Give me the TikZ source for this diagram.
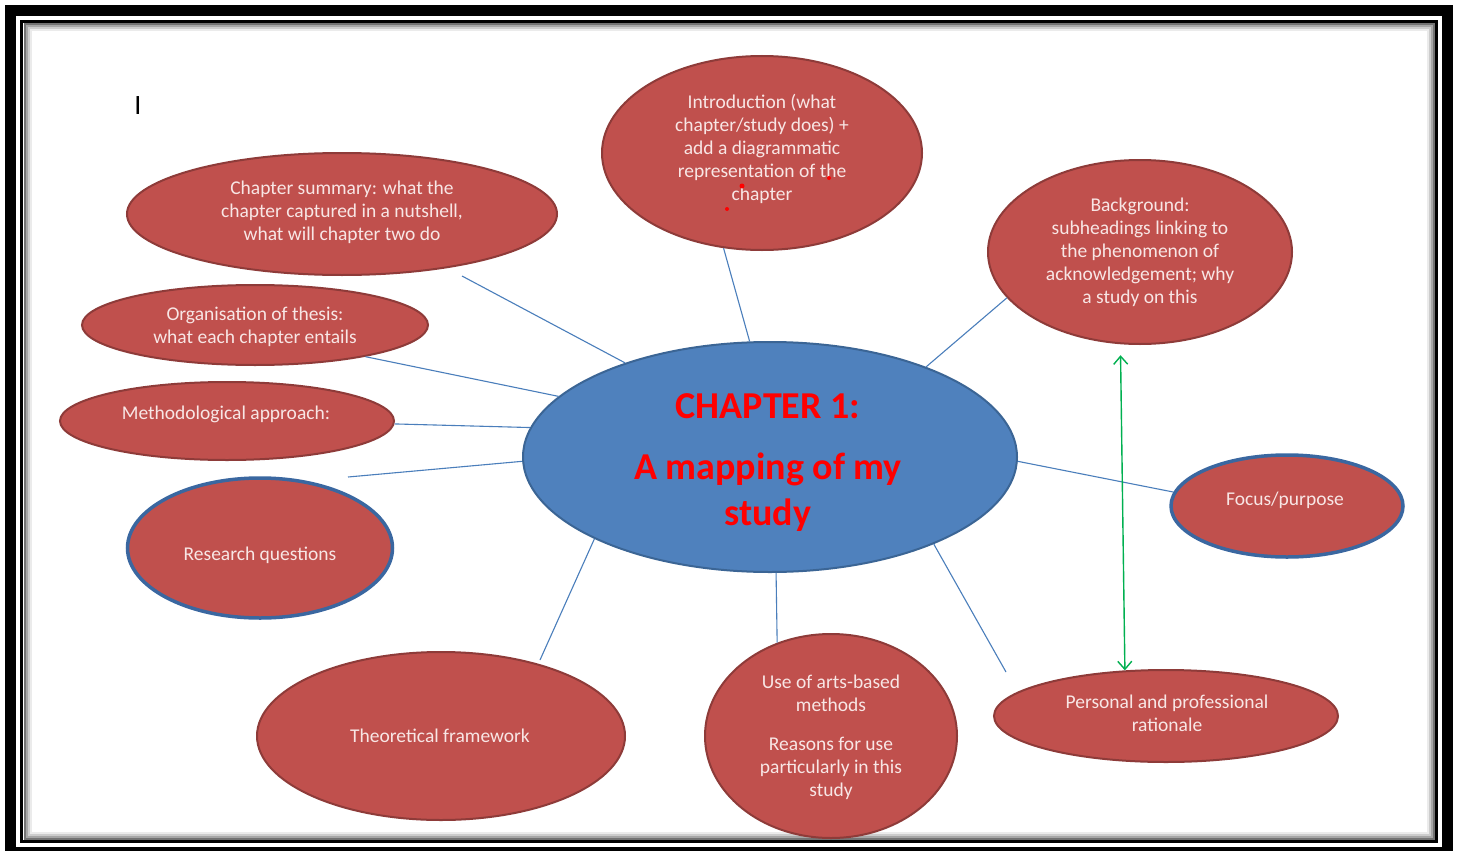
\documentclass[tikz,border=0pt]{standalone}
\usepackage{fontspec}
\setmainfont{Carlito}
\usetikzlibrary{shapes.geometric,arrows.meta}

\definecolor{bubblered}{HTML}{C0504D}
\definecolor{bubbleedge}{HTML}{8E3B39}
\definecolor{hubblue}{HTML}{4F81BD}
\definecolor{hubedge}{HTML}{3B6595}
\definecolor{ringblue}{HTML}{3A67A0}
\definecolor{linkblue}{HTML}{4A7EBB}
\definecolor{arrowgreen}{HTML}{00B050}
\definecolor{labelpink}{HTML}{F8E6E5}
\definecolor{titlered}{HTML}{FF0000}

\begin{document}
\begin{tikzpicture}[x=1pt,y=-1pt,
  bubble/.style={ellipse, fill=bubblered, draw=bubbleedge, line width=2pt, inner sep=0pt},
  ringed/.style={bubble, draw=ringblue, line width=3.5pt},
  hub/.style={ellipse, fill=hubblue, draw=hubedge, line width=2pt, inner sep=0pt},
  bubbletext/.style={inner sep=0pt, align=center, text=labelpink,
    font=\fontsize{19.5}{23}\selectfont},
  hubtext/.style={inner sep=0pt, align=center, text=titlered,
    font=\fontsize{38}{46}\selectfont\bfseries},
  link/.style={draw=linkblue, line width=1.1pt},
  twoway/.style={draw=arrowgreen, line width=1.4pt,
    {Straight Barb[length=8pt,width=14pt]}-{Straight Barb[length=8pt,width=14pt]}}
]
\useasboundingbox (0,0) rectangle (1459,851);
\fill[white] (0,0) rectangle (1459,851);

% page frame: heavy outer rule, thin inner rule, soft inner shadow
\draw[line width=11pt] (10.5,10.5) rectangle (1447.5,852.5);
\draw[line width=3pt] (21.5,21.5) rectangle (1436.5,841.5);
\foreach \d/\c in {3/55,5/35,7/20,9/8}
  \draw[black!\c, line width=2pt] ({21.5+\d},{21.5+\d}) rectangle ({1436.5-\d},{841.5-\d});

% stray cursor mark
\node[font=\fontsize{28}{28}\selectfont] (cursor) at (138,106) {I};

% satellite bubbles
\node[bubble, minimum width=320pt, minimum height=194pt] (intro) at (762,153) {};
\node[bubble, minimum width=430pt, minimum height=122pt] (summary) at (342,214) {};
\node[bubble, minimum width=346pt, minimum height=80pt] (organisation) at (255,325) {};
\node[bubble, minimum width=334pt, minimum height=78pt] (method) at (227,421) {};
\node[ringed, minimum width=265pt, minimum height=140pt] (questions) at (260,548) {};
\node[bubble, minimum width=368pt, minimum height=168pt] (theory) at (441,736) {};
\node[bubble, minimum width=252pt, minimum height=204pt] (arts) at (831,736) {};
\node[bubble, minimum width=344pt, minimum height=92pt] (rationale) at (1166,716) {};
\node[ringed, minimum width=232pt, minimum height=102pt] (focus) at (1287,506) {};
\node[bubble, minimum width=304pt, minimum height=184pt] (background) at (1140,252) {};

% centre
\node[hub, minimum width=494pt, minimum height=230pt] (hub) at (770,457) {};

% bubble texts
\node[bubbletext] (introtext) at (762,149)
  {Introduction (what\\chapter/study does) +\\add a diagrammatic\\representation of the\\chapter};
\node[bubbletext] (summarytext) at (342,212)
  {Chapter summary: what the\\chapter captured in a nutshell,\\what will chapter two do};
\node[bubbletext] (organisationtext) at (255,327)
  {Organisation of thesis:\\what each chapter entails};
\node[bubbletext] (methodtext) at (226,414) {Methodological approach:};
\node[bubbletext] (questionstext) at (260,555) {Research questions};
\node[bubbletext] (theorytext) at (440,736) {Theoretical framework};
\node[bubbletext] (artstext) at (831,737)
  {Use of arts-based\\methods\\[16pt]Reasons for use\\particularly in this\\study};
\node[bubbletext] (rationaletext) at (1167,713.5)
  {Personal and professional\\rationale};
\node[bubbletext] (focustext) at (1285,500) {Focus/purpose};
\node[bubbletext] (backgroundtext) at (1140,252)
  {Background:\\subheadings linking to\\the phenomenon of\\acknowledgement; why\\a study on this};
\node[hubtext] (hubtext) at (768,462.5) {CHAPTER 1:\\[15pt]A mapping of my\\study};

% red specks on the introduction bubble
\fill[red] (742,186) circle (2.5pt) (727,209) circle (2pt) (829,178) circle (2pt);

% loose ends of spokes that stop short of their bubble
\coordinate (summaryend) at (462,276);
\coordinate (questionsend) at (348,477);
\coordinate (theoryend) at (540,660);
\coordinate (rationaleend) at (1006,672);

% spokes
\draw[link] (hub.100) -- (intro.248);
\draw[link] (hub.147) -- (summaryend);
\draw[link] (hub.164) -- (organisation.344);
\draw[link] (hub.173) -- (method.359);
\draw[link] (hub.181) -- (questionsend);
\draw[link] (hub.205) -- (theoryend);
\draw[link] (hub.273) -- (arts.120);
\draw[link] (hub.332) -- (rationaleend);
\draw[link] (hub.359) -- (focus.173);
\draw[link] (hub.30) -- (background.199);

% background <-> rationale
\draw[twoway, shorten <=11pt] (background.258) -- (rationale.132);
\end{tikzpicture}
\end{document}
